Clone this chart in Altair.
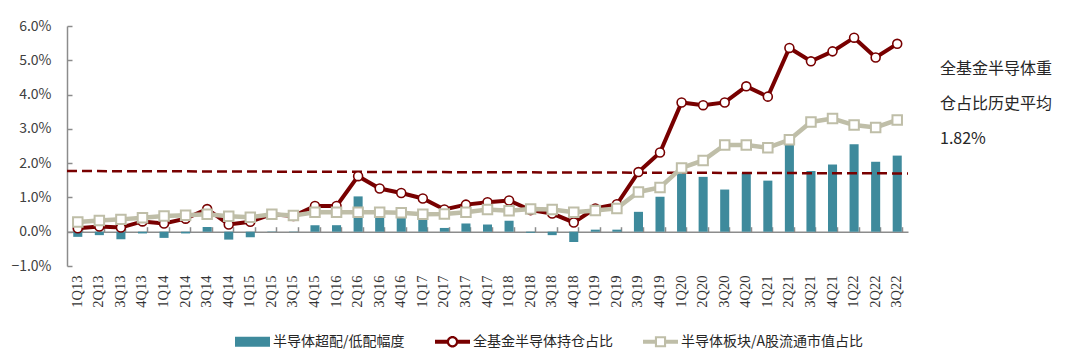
import altair as alt
import pandas as pd

# ---------------- data ----------------
QUARTERS = ["1Q13", "2Q13", "3Q13", "4Q13", "1Q14", "2Q14", "3Q14", "4Q14",
            "1Q15", "2Q15", "3Q15", "4Q15", "1Q16", "2Q16", "3Q16", "4Q16",
            "1Q17", "2Q17", "3Q17", "4Q17", "1Q18", "2Q18", "3Q18", "4Q18",
            "1Q19", "2Q19", "3Q19", "4Q19", "1Q20", "2Q20", "3Q20", "4Q20",
            "1Q21", "2Q21", "3Q21", "4Q21", "1Q22", "2Q22", "3Q22"]

# 半导体超配/低配幅度 (%)
OVERWEIGHT = [-0.15, -0.10, -0.22, -0.05, -0.18, -0.05, 0.14, -0.23,
              -0.16, 0.01, -0.01, 0.19, 0.19, 1.03, 0.69, 0.58,
              0.46, 0.11, 0.24, 0.21, 0.32, -0.03, -0.10, -0.30,
              0.06, 0.06, 0.58, 1.02, 1.91, 1.60, 1.23, 1.71,
              1.49, 2.68, 1.77, 1.96, 2.55, 2.04, 2.22]

# 全基金半导体持仓占比 (%)
FUND_HOLDING = [0.10, 0.15, 0.12, 0.30, 0.24, 0.38, 0.66, 0.21,
                0.29, 0.51, 0.46, 0.75, 0.75, 1.62, 1.26, 1.13,
                0.97, 0.65, 0.79, 0.86, 0.91, 0.63, 0.53, 0.27,
                0.68, 0.80, 1.74, 2.31, 3.77, 3.69, 3.77, 4.24,
                3.94, 5.36, 4.97, 5.26, 5.66, 5.08, 5.48]

# 半导体板块/A股流通市值占比 (%)
MARKET_SHARE = [0.28, 0.33, 0.36, 0.41, 0.46, 0.48, 0.51, 0.45,
                0.42, 0.51, 0.47, 0.57, 0.57, 0.57, 0.57, 0.55,
                0.51, 0.52, 0.57, 0.65, 0.61, 0.66, 0.65, 0.57,
                0.62, 0.68, 1.16, 1.29, 1.86, 2.08, 2.53, 2.53,
                2.45, 2.68, 3.20, 3.30, 3.11, 3.04, 3.26]

# dashed average line as drawn (left end, right end)
AVG_LINE = [1.77, 1.70]

SERIES = ["半导体超配/低配幅度", "全基金半导体持仓占比", "半导体板块/A股流通市值占比"]
NOTE_LINES = ["全基金半导体重", "仓占比历史平均", "1.82%"]
Y_TICKS = [-1, 0, 1, 2, 3, 4, 5, 6]

# ---------------- style ----------------
W, H = 841, 240
BAR_C = "#3E8A9C"
RED_C = "#780000"
BEIGE_C = "#BFBEA8"
AXIS_C = "#8C8C8C"
FONT = "Noto Sans CJK SC"

SYM_BAR = "M-1,-0.29H1V0.29H-1Z"
SYM_CIRCLE = ("M-1,-0.12H-0.3V0.12H-1Z M0.3,-0.12H1V0.12H0.3Z "
              "M0.33,0A0.33,0.33 0 1,1 -0.33,0A0.33,0.33 0 1,1 0.33,0Z "
              "M0.2,0A0.2,0.2 0 1,0 -0.2,0A0.2,0.2 0 1,0 0.2,0Z")
SYM_SQUARE = ("M-1,-0.12H-0.32V0.12H-1Z M0.32,-0.12H1V0.12H0.32Z "
              "M-0.32,-0.32H0.32V0.32H-0.32Z M-0.2,-0.2V0.2H0.2V-0.2Z")

df = pd.DataFrame({"q": QUARTERS, "bar": OVERWEIGHT,
                   "fund": FUND_HOLDING, "mkt": MARKET_SHARE})

xscale = alt.Scale(domain=QUARTERS, paddingInner=0.58, paddingOuter=0.29)
yscale = alt.Scale(domain=[-1, 6], nice=False, zero=False)

base = alt.Chart(df)

bars = base.mark_bar(color=BAR_C).encode(
    x=alt.X("q:N", sort=QUARTERS, scale=xscale,
            axis=alt.Axis(orient="bottom", labelAngle=-90, labelFont="Liberation Serif",
                          labelFontSize=14.5, labelColor="#333333", domain=False,
                          ticks=False, labelPadding=9, title=None, grid=False)),
    y=alt.Y("bar:Q", scale=yscale,
            axis=alt.Axis(orient="left", values=Y_TICKS,
                          labelExpr="format(datum.value, '.1f') + '%'",
                          labelFont=FONT, labelFontSize=14, labelColor="#404040",
                          domain=False, ticks=False, tickSize=0, grid=False,
                          labelPadding=16, title=None)),
)

avg = alt.Chart(pd.DataFrame({"a": [AVG_LINE[0]], "b": [AVG_LINE[1]]})).mark_rule(
    color=RED_C, strokeWidth=2.5, strokeDash=[10, 5]
).encode(
    x=alt.value(0), x2=alt.value(W),
    y=alt.Y("a:Q", scale=yscale, axis=None), y2="b:Q",
)

red_line = base.mark_line(color=RED_C, strokeWidth=4).encode(
    x=alt.X("q:N", sort=QUARTERS, scale=xscale,
            axis=alt.Axis(orient="top", offset=-H * 6 / 7, labels=False,
                          tickBand="extent", domainColor=AXIS_C, tickColor=AXIS_C,
                          domainWidth=1.5, tickWidth=1.5, tickSize=5,
                          title=None, grid=False)),
    y=alt.Y("fund:Q", scale=yscale,
            axis=alt.Axis(orient="right", offset=-W, labels=False, values=Y_TICKS,
                          domainColor=AXIS_C, tickColor=AXIS_C, domainWidth=1.5,
                          tickWidth=1.5, tickSize=5, title=None, grid=False)),
)
red_pts = base.mark_point(shape="circle", filled=True, fill="white", stroke=RED_C,
                          strokeWidth=1.6, size=80, opacity=1).encode(
    x=alt.X("q:N", sort=QUARTERS, scale=xscale, axis=None),
    y=alt.Y("fund:Q", scale=yscale, axis=None),
)

beige_line = base.mark_line(color=BEIGE_C, strokeWidth=4.5).encode(
    x=alt.X("q:N", sort=QUARTERS, scale=xscale, axis=None),
    y=alt.Y("mkt:Q", scale=yscale, axis=None),
)
beige_pts = base.mark_point(shape="square", filled=True, fill="white", stroke=BEIGE_C,
                            strokeWidth=2, size=90, opacity=1).encode(
    x=alt.X("q:N", sort=QUARTERS, scale=xscale, axis=None),
    y=alt.Y("mkt:Q", scale=yscale, axis=None),
)

legend_layer = alt.Chart(pd.DataFrame({"s": SERIES})).transform_filter(
    "false"
).mark_point(filled=True, opacity=1).encode(
    color=alt.Color("s:N", scale=alt.Scale(domain=SERIES, range=[BAR_C, RED_C, BEIGE_C]),
                    legend=alt.Legend(orient="none", legendX=168, legendY=298,
                                      direction="horizontal", title=None,
                                      symbolSize=1225, symbolStrokeWidth=0,
                                      symbolOpacity=1,
                                      labelFont=FONT, labelFontSize=14,
                                      labelColor="#262626", columnPadding=30,
                                      labelOffset=3, padding=0, labelLimit=0)),
    shape=alt.Shape("s:N", scale=alt.Scale(domain=SERIES,
                                           range=[SYM_BAR, SYM_CIRCLE, SYM_SQUARE])),
)

note = alt.Chart(pd.DataFrame({"n": [0]})).mark_text(
    text=NOTE_LINES, lineHeight=35, fontSize=16, font=FONT, color="#262626",
    align="left", baseline="middle"
).encode(x=alt.value(W + 32), y=alt.value(43))

chart = alt.layer(
    bars, avg, red_line, red_pts, beige_line, beige_pts, legend_layer, note
).resolve_axis(
    x="independent", y="independent"
).properties(
    width=W, height=H, padding={"left": 2, "top": 11, "right": 5, "bottom": 0}
).configure_view(stroke=None)

chart.save("out.html", embed_options={"renderer": "svg", "actions": False})
